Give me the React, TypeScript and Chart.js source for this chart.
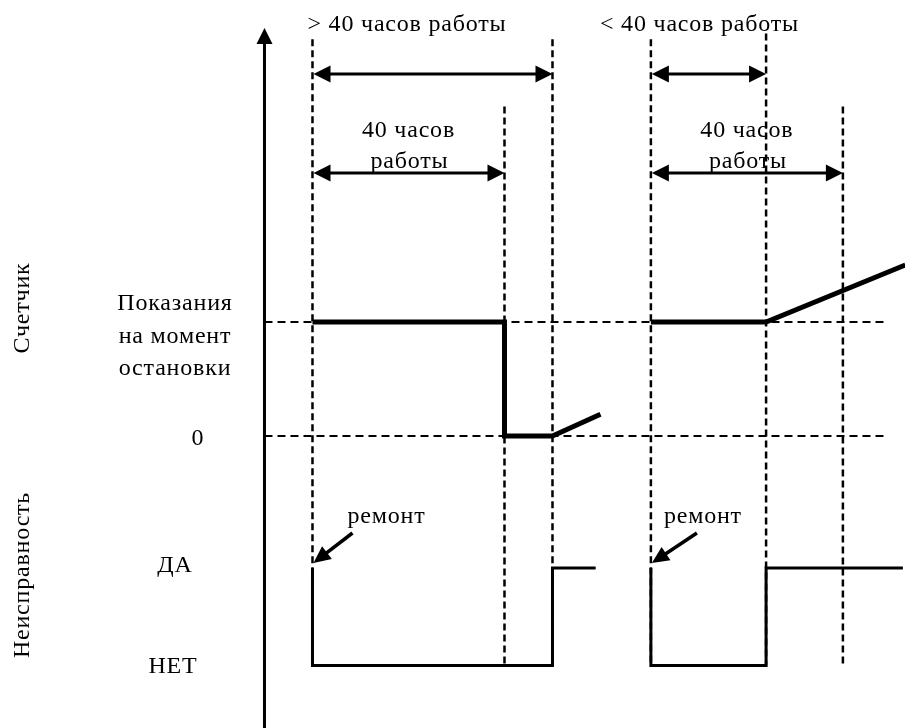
import React, { useEffect, useRef } from 'react';
import { Chart, registerables } from 'chart.js';

Chart.register(...registerables);

// ---- Data (time in hours of work; counter in conventional units; fault 0 = НЕТ, 1 = ДА)
const COUNTER_LEFT_T = [0, 40, 40, 50, 60];
const COUNTER_LEFT_V = [100, 100, 0, 0, 19];
const COUNTER_RIGHT_T = [70.5, 94.5, 123.5];
const COUNTER_RIGHT_V = [100, 100, 150];

const FAULT_LEFT_T = [0, 0, 50, 50, 59];
const FAULT_LEFT_V = [1, 0, 0, 1, 1];
const FAULT_RIGHT_T = [70.5, 70.5, 94.5, 94.5, 123];
const FAULT_RIGHT_V = [1, 0, 0, 1, 1];

const COUNTER_LEVELS = [100, 0];
const LEVEL_SPAN_T = [-10, 120];
const AXIS_T = -10;

const GUIDE_T = [0, 40, 50, 70.5, 94.5, 110.5];
const GUIDE_TOP = [348, 289, 348, 348, 353, 289];

const INTERVAL_FROM = [0, 70.5, 0, 70.5];
const INTERVAL_TO = [50, 94.5, 40, 110.5];
const INTERVAL_LEVEL = [317.5, 317.5, 230.7, 230.7];
const INTERVAL_LABELS: string[][] = [
  ['> 40 часов работы'],
  ['< 40 часов работы'],
  ['40 часов', 'работы'],
  ['40 часов', 'работы'],
];

const REPAIR_T = [0, 70.5];
const REPAIR_LABEL = 'ремонт';

const COUNTER_TICK_VALUES = [100, 0];
const COUNTER_TICK_LABELS: string[][] = [['Показания', 'на момент', 'остановки'], ['0']];
const FAULT_TICK_VALUES = [1, 0];
const FAULT_TICK_LABELS = ['ДА', 'НЕТ'];
const ROW_TITLES = ['Счетчик', 'Неисправность'];

const FONT = '24px "Liberation Serif", "Times New Roman", serif';
const SPACING = '0.8px';

function head(ctx: CanvasRenderingContext2D, x: number, y: number, a: number, len: number, half: number) {
  const c = Math.cos(a), s = Math.sin(a);
  ctx.beginPath();
  ctx.moveTo(x, y);
  ctx.lineTo(x - len * c + half * s, y - len * s - half * c);
  ctx.lineTo(x - len * c - half * s, y - len * s + half * c);
  ctx.closePath();
  ctx.fill();
}

const diagramPlugin = {
  id: 'diagram',
  beforeDatasetsDraw(chart: any) {
    const ctx: CanvasRenderingContext2D = chart.ctx;
    const xs = chart.scales.x, yc = chart.scales.y, yf = chart.scales.yf;
    ctx.save();
    ctx.strokeStyle = '#000';
    ctx.lineWidth = 2.5;
    ctx.setLineDash([7, 4]);
    GUIDE_T.forEach((t, i) => {
      const x = xs.getPixelForValue(t);
      ctx.beginPath();
      ctx.moveTo(x, yc.getPixelForValue(GUIDE_TOP[i]));
      ctx.lineTo(x, yf.getPixelForValue(0));
      ctx.stroke();
    });
    ctx.restore();
  },
  afterDatasetsDraw(chart: any) {
    const ctx: any = chart.ctx;
    const xs = chart.scales.x, yc = chart.scales.y, yf = chart.scales.yf;
    const area = chart.chartArea;
    ctx.save();
    ctx.fillStyle = '#000';
    ctx.strokeStyle = '#000';
    ctx.setLineDash([]);

    // vertical axis with arrow
    const ax = xs.getPixelForValue(AXIS_T);
    ctx.lineWidth = 3;
    ctx.beginPath();
    ctx.moveTo(ax, area.bottom);
    ctx.lineTo(ax, 40);
    ctx.stroke();
    head(ctx, ax, 28, -Math.PI / 2, 16, 8);

    // interval arrows
    ctx.lineWidth = 3;
    INTERVAL_FROM.forEach((t0, i) => {
      const x1 = xs.getPixelForValue(t0) + 1;
      const x2 = xs.getPixelForValue(INTERVAL_TO[i]);
      const y = yc.getPixelForValue(INTERVAL_LEVEL[i]);
      ctx.beginPath();
      ctx.moveTo(x1 + 8, y);
      ctx.lineTo(x2 - 8, y);
      ctx.stroke();
      head(ctx, x1, y, Math.PI, 17, 8.5);
      head(ctx, x2, y, 0, 17, 8.5);
    });

    ctx.font = FONT;
    ctx.letterSpacing = SPACING;

    // repair arrows
    const repairDx = [39, 45];
    const labelDx = [34, 12];
    REPAIR_T.forEach((t, i) => {
      const tx = xs.getPixelForValue(t) + 1;
      const ty = yf.getPixelForValue(1) - 5;
      const sx = tx + repairDx[i], sy = ty - 30;
      const a = Math.atan2(ty - sy, tx - sx);
      ctx.lineWidth = 3.5;
      ctx.beginPath();
      ctx.moveTo(sx, sy);
      ctx.lineTo(tx - 10 * Math.cos(a), ty - 10 * Math.sin(a));
      ctx.stroke();
      head(ctx, tx, ty, a, 17, 8);
      ctx.textAlign = 'left';
      ctx.textBaseline = 'alphabetic';
      ctx.fillText(REPAIR_LABEL, tx + labelDx[i], 523);
    });

    // interval labels
    ctx.textBaseline = 'alphabetic';
    ctx.textAlign = 'center';
    const topDx = [-25.5, -9];
    INTERVAL_LABELS.forEach((lines, i) => {
      const mid = (xs.getPixelForValue(INTERVAL_FROM[i]) + xs.getPixelForValue(INTERVAL_TO[i])) / 2;
      if (lines.length === 1) {
        ctx.fillText(lines[0], mid + topDx[i], 31);
      } else {
        ctx.fillText(lines[0], mid, 137);
        ctx.fillText(lines[1], mid + 1, 168);
      }
    });

    // counter tick labels
    COUNTER_TICK_LABELS.forEach((lines, i) => {
      const y = yc.getPixelForValue(COUNTER_TICK_VALUES[i]);
      if (lines.length > 1) {
        lines.forEach((l, j) => ctx.fillText(l, 175, y - 12 + j * 32.5));
      } else {
        ctx.fillText(lines[0], 198, y + 9);
      }
    });
    FAULT_TICK_LABELS.forEach((l, i) => {
      const y = yf.getPixelForValue(FAULT_TICK_VALUES[i]);
      ctx.fillText(l, i === 0 ? 175 : 173, y + (i === 0 ? 4 : 7));
    });

    // row titles (rotated)
    const titleY = [308, 575];
    ROW_TITLES.forEach((t, i) => {
      ctx.save();
      ctx.translate(23, titleY[i]);
      ctx.rotate(-Math.PI / 2);
      ctx.textAlign = 'center';
      ctx.textBaseline = 'middle';
      ctx.fillText(t, 0, 0);
      ctx.restore();
    });
    ctx.restore();
  },
};

function pts(ts: number[], vs: number[]) {
  return ts.map((t, i) => ({ x: t, y: vs[i] }));
}

export default function App() {
  const ref = useRef<HTMLCanvasElement | null>(null);
  useEffect(() => {
    if (!ref.current) return;
    const common = { showLine: true, pointRadius: 0, borderColor: '#000', fill: false, tension: 0, clip: false as any };
    const chart = new Chart(ref.current, {
      type: 'scatter',
      data: {
        datasets: [
          ...COUNTER_LEVELS.map((lv) => ({
            ...common,
            yAxisID: 'y',
            data: pts(LEVEL_SPAN_T, [lv, lv]),
            borderWidth: 2,
            borderDash: [8, 5],
          })),
          { ...common, yAxisID: 'y', data: pts(COUNTER_LEFT_T, COUNTER_LEFT_V), borderWidth: 5, borderJoinStyle: 'miter' as const },
          { ...common, yAxisID: 'y', data: pts(COUNTER_RIGHT_T, COUNTER_RIGHT_V), borderWidth: 5, borderJoinStyle: 'miter' as const },
          { ...common, yAxisID: 'yf', data: pts(FAULT_LEFT_T, FAULT_LEFT_V), borderWidth: 3, borderJoinStyle: 'miter' as const },
          { ...common, yAxisID: 'yf', data: pts(FAULT_RIGHT_T, FAULT_RIGHT_V), borderWidth: 3, borderJoinStyle: 'miter' as const },
        ],
      },
      options: {
        animation: false,
        responsive: false,
        devicePixelRatio: 1,
        layout: { padding: 0 },
        events: [],
        plugins: { legend: { display: false }, tooltip: { enabled: false }, title: { display: false } },
        scales: {
          x: { type: 'linear', display: false, min: -65.1, max: 123.44 },
          y: { type: 'linear', display: false, min: -256.14, max: 382.46 },
          yf: { type: 'linear', display: false, min: -0.641, max: 6.826 },
        },
      },
      plugins: [diagramPlugin],
    });
    return () => chart.destroy();
  }, []);
  return (
    <div style={{ position: 'absolute', left: 0, top: 0, width: 905, height: 728, background: '#fff' }}>
      <canvas ref={ref} width={905} height={728} style={{ display: 'block' }} />
    </div>
  );
}
